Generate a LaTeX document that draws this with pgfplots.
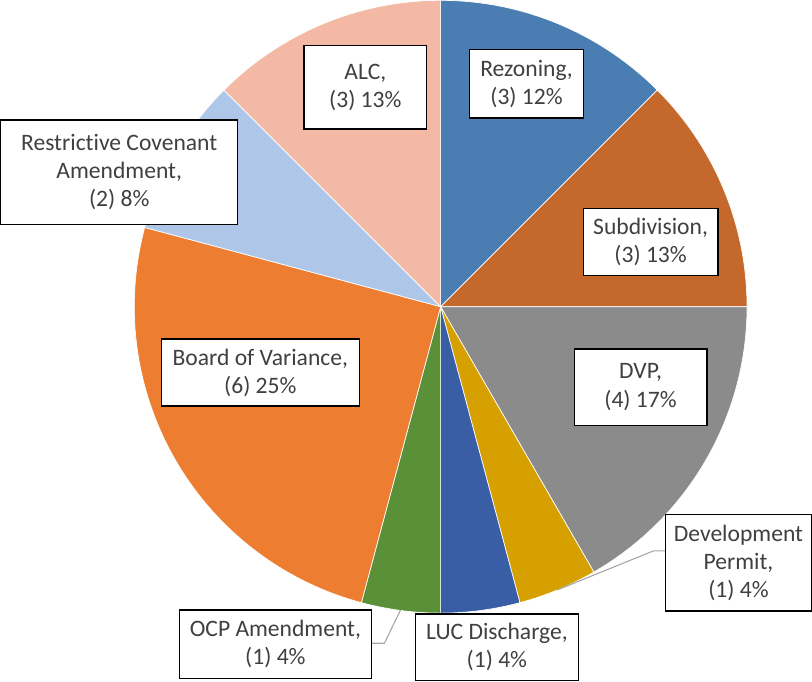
\documentclass[border=0pt]{standalone}
\usepackage{fontspec}
\setmainfont[Ligatures=CommonOff]{Carlito}
\usepackage{pgfplots}
\pgfplotsset{compat=1.18}

\definecolor{cRez}{HTML}{4A7EB3}
\definecolor{cSub}{HTML}{C5682B}
\definecolor{cDVP}{HTML}{8B8B8B}
\definecolor{cDP}{HTML}{D5A000}
\definecolor{cLUC}{HTML}{3A5EA6}
\definecolor{cOCP}{HTML}{5A9038}
\definecolor{cBoV}{HTML}{ED7D31}
\definecolor{cRCA}{HTML}{AEC7E8}
\definecolor{cALC}{HTML}{F4B9A5}
\definecolor{txt}{HTML}{404040}
\definecolor{leader}{HTML}{A6A6A6}

% pie in pixel coordinates: centre (441,306), radius 305, y grows downwards
\def\cx{441}
\def\cy{306}
\def\rad{305}
\def\total{24}
\gdef\cum{0}
\newcommand\slice[2]{%
  \pgfmathsetmacro\angA{90-\cum*360/\total}%
  \pgfmathsetmacro\angB{90-(\cum+#1)*360/\total}%
  \addplot[fill=#2, draw=white, line width=0.5pt, domain=\angB:\angA, samples=80]
    ({\cx+\rad*cos(x)},{\cy-\rad*sin(x)}) -- (axis cs:\cx,\cy) -- cycle;
  \pgfmathsetmacro\newcum{\cum+#1}%
  \xdef\cum{\newcum}%
}

\tikzset{lbl/.style 2 args={draw=black, line width=1pt, fill=white, text=txt,
  align=center, font=\fontsize{17.6}{21}\selectfont,
  minimum width=#1*0.75pt, minimum height=#2*0.75pt, inner sep=0pt}}

\begin{document}
\begin{tikzpicture}
\begin{axis}[
    hide axis,
    scale only axis,
    width=609pt, height=510.75pt,
    xmin=0, xmax=812, ymin=0, ymax=681,
    y dir=reverse,
    clip=false,
]
% counts, clockwise from 12 o'clock
\slice{3}{cRez}  % Rezoning
\slice{3}{cSub}  % Subdivision
\slice{4}{cDVP}  % DVP
\slice{1}{cDP}   % Development Permit
\slice{1}{cLUC}  % LUC Discharge
\slice{1}{cOCP}  % OCP Amendment
\slice{6}{cBoV}  % Board of Variance
\slice{2}{cRCA}  % Restrictive Covenant Amendment
\slice{3}{cALC}  % ALC

\draw[leader, line width=0.8pt] (axis cs:665,549) -- (axis cs:653,549) -- (axis cs:557,588);
\draw[leader, line width=0.8pt] (axis cs:372,641) -- (axis cs:385,641) -- (axis cs:401,608);

\node[lbl={113}{68}] at (axis cs:526.5,84) {Rezoning,\\(3) 12\%};
\node[lbl={134}{67}] at (axis cs:650,241.5) {Subdivision,\\(3) 13\%};
\node[lbl={132}{76}] at (axis cs:640,386) {DVP,\\(4) 17\%};
\node[lbl={145}{96}] at (axis cs:737.5,561) {Development\\Permit,\\(1) 4\%};
\node[lbl={162}{66}] at (axis cs:497,645) {LUC Discharge,\\(1) 4\%};
\node[lbl={191}{68}] at (axis cs:276.5,642) {OCP Amendment,\\(1) 4\%};
\node[lbl={197}{67}] at (axis cs:261.5,371.5) {Board of Variance,\\(6) 25\%};
\node[lbl={236}{104}] at (axis cs:121,172) {Restrictive Covenant\\Amendment,\\(2) 8\%};
\node[lbl={122}{83}] at (axis cs:366,87.5) {ALC,\\(3) 13\%};
\end{axis}
\end{tikzpicture}
\end{document}
